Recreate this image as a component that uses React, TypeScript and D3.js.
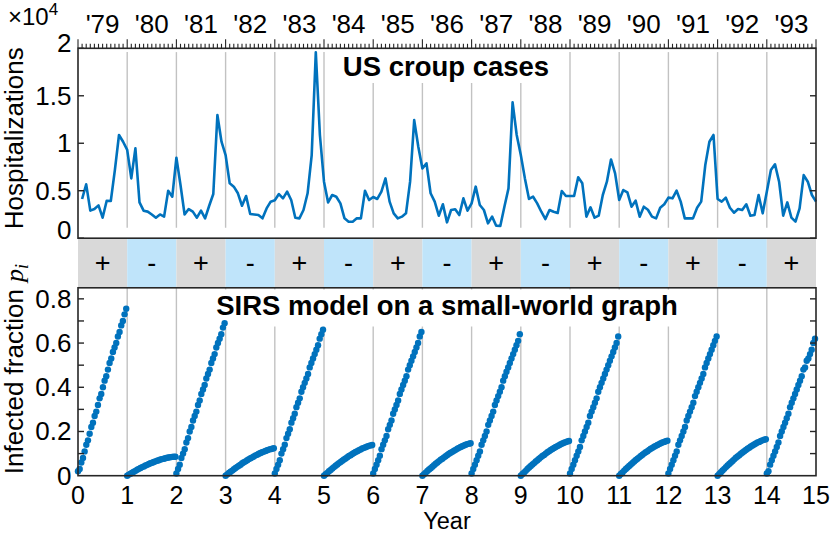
import React from 'react';
import * as d3 from 'd3';

const W = 830;
const H = 534;

const YEAR_LABELS = ["'79", "'80", "'81", "'82", "'83", "'84", "'85", "'86", "'87", "'88", "'89", "'90", "'91", "'92", "'93"];
const BAND_SIGNS = ['+', '-', '+', '-', '+', '-', '+', '-', '+', '-', '+', '-', '+', '-', '+'];
const TOP_TICKS = [0, 5000, 10000, 15000, 20000];
const TOP_TICK_LABELS = ['0', '0.5', '1', '1.5', '2'];
const BOT_TICKS = [0, 0.2, 0.4, 0.6, 0.8];
const BOT_TICK_LABELS = ['0', '0.2', '0.4', '0.6', '0.8'];
const BOT_MINOR = [0.1, 0.2, 0.3, 0.4, 0.5, 0.6, 0.7, 0.8];
const YEARS = [0, 1, 2, 3, 4, 5, 6, 7, 8, 9, 10, 11, 12, 13, 14, 15];

// monthly US croup hospitalizations, Jan 1979 .. Dec 1993
const CROUP = [
  4130, 5670, 2900, 3070, 3460, 2160, 3950, 3920, 7200, 10870, 10160, 9300,
  6300, 9460, 3770, 2900, 2800, 2500, 2160, 2500, 2270, 5000, 4370, 8480,
  5600, 2500, 3070, 2800, 2160, 2900, 2090, 3420, 4650, 12970, 10160, 8760,
  5780, 5430, 4730, 3420, 4440, 2550, 2500, 2440, 2090, 3140, 3850, 3990,
  4650, 4200, 4900, 4020, 2160, 2090, 2970, 4730, 8760, 19570, 10870, 5950,
  3770, 4550, 4370, 3670, 2090, 1740, 1740, 2090, 2090, 5000, 4020, 4340,
  4130, 4900, 6300, 3850, 2620, 2090, 2270, 2620, 5950, 12440, 9630, 7350,
  7880, 4730, 3850, 2370, 3570, 1670, 2970, 3040, 2440, 4200, 2900, 3670,
  5430, 3500, 2970, 1570, 2270, 1320, 1280, 3320, 5250, 14300, 10870, 8760,
  6300, 4130, 4370, 3670, 2790, 2020, 2970, 2790, 2650, 4970, 4440, 4440,
  4440, 6410, 5780, 2270, 3250, 2160, 2370, 4550, 5950, 8290, 6830, 4020,
  5070, 4830, 3320, 3950, 2270, 3320, 3000, 2270, 2090, 3210, 3570, 4270,
  4200, 5000, 3850, 2090, 2090, 2090, 3210, 3850, 7710, 10160, 10870, 4130,
  3850, 4270, 3210, 2690, 3070, 2970, 3570, 2370, 2440, 4550, 2620, 4900,
  7180, 7780, 5950, 2370, 3770, 2160, 1740, 3140, 6650, 5950, 4550, 3850,
];

// SIRS infected fraction, one array per year (30 samples each)
const SIRS_Y0 = [.02, .03, .06, .08, .11, .14, .16, .19, .22, .24, .27, .29, .32, .35, .37, .40, .43, .45, .48, .51, .53, .56, .58, .60, .63, .65, .68, .70, .73, .755];
const SIRS_Y1 = [0, .005, .009, .014, .018, .022, .027, .031, .035, .039, .042, .046, .049, .053, .056, .059, .062, .065, .068, .070, .073, .075, .077, .079, .081, .082, .084, .085, .086, .086];
const SIRS_Y2 = [.01, .03, .05, .08, .10, .12, .15, .17, .20, .22, .25, .27, .29, .32, .34, .37, .39, .41, .44, .46, .48, .51, .53, .55, .58, .60, .62, .64, .67, .69];
const SIRS_Y3 = [0, .006, .012, .018, .023, .029, .035, .040, .045, .050, .056, .061, .065, .070, .075, .079, .083, .087, .092, .095, .099, .103, .106, .109, .112, .115, .118, .120, .122, .124];
const SIRS_Y4 = [.01, .03, .05, .07, .10, .12, .14, .17, .19, .21, .24, .26, .28, .31, .33, .35, .38, .40, .42, .44, .46, .49, .51, .53, .55, .57, .59, .62, .64, .66];
const SIRS_Y5 = [0, .007, .013, .020, .026, .033, .039, .045, .051, .057, .062, .068, .073, .078, .084, .089, .093, .098, .103, .107, .111, .115, .119, .123, .126, .129, .132, .135, .137, .139];
const SIRS_Y6 = [.01, .03, .05, .07, .09, .12, .14, .16, .18, .21, .23, .25, .28, .30, .32, .34, .37, .39, .41, .43, .45, .48, .50, .52, .54, .56, .58, .60, .63, .65];
const SIRS_Y7 = [0, .007, .014, .021, .028, .034, .041, .047, .054, .060, .066, .072, .077, .083, .088, .094, .099, .104, .108, .113, .117, .122, .126, .130, .133, .137, .140, .143, .145, .147];
const SIRS_Y8 = [.01, .03, .05, .07, .09, .11, .14, .16, .18, .20, .23, .25, .27, .29, .32, .34, .36, .38, .40, .43, .45, .47, .49, .51, .53, .55, .57, .59, .61, .64];
const SIRS_Y9 = [0, .008, .015, .022, .030, .037, .044, .051, .057, .064, .070, .077, .083, .089, .094, .100, .106, .111, .116, .121, .125, .130, .134, .138, .142, .146, .149, .152, .155, .157];
const SIRS_Y10 = [.01, .03, .05, .07, .09, .11, .13, .16, .18, .20, .22, .24, .27, .29, .31, .33, .35, .38, .40, .42, .44, .46, .48, .50, .52, .54, .56, .58, .60, .63];
const SIRS_Y11 = [0, .008, .015, .023, .030, .037, .044, .051, .058, .064, .071, .077, .083, .089, .095, .101, .106, .111, .117, .122, .126, .131, .135, .139, .143, .147, .150, .153, .156, .158];
const SIRS_Y12 = [.01, .03, .05, .07, .09, .11, .14, .16, .18, .20, .22, .25, .27, .29, .31, .33, .36, .38, .40, .42, .44, .46, .49, .51, .53, .55, .57, .59, .61, .63];
const SIRS_Y13 = [0, .008, .016, .024, .031, .039, .046, .053, .060, .067, .074, .081, .087, .093, .099, .105, .111, .116, .122, .127, .132, .137, .141, .146, .150, .153, .157, .160, .163, .165];
const SIRS_Y14 = [.01, .02, .05, .07, .09, .11, .13, .15, .18, .20, .22, .24, .26, .28, .31, .33, .35, .37, .39, .41, .43, .45, .48, .49, .52, .53, .55, .57, .60, .62];

const SIRS_SEGMENTS = [SIRS_Y0, SIRS_Y1, SIRS_Y2, SIRS_Y3, SIRS_Y4, SIRS_Y5, SIRS_Y6, SIRS_Y7,
  SIRS_Y8, SIRS_Y9, SIRS_Y10, SIRS_Y11, SIRS_Y12, SIRS_Y13, SIRS_Y14];

const FONT = '"Liberation Sans", Arial, Helvetica, sans-serif';
const SERIF = '"Liberation Serif", "Times New Roman", serif';
const BLUE = '#0072BD';
const AXIS = '#262626';
const GRID = '#c2c2c2';
const BAND_GRAY = '#d9d9d9';
const BAND_BLUE = '#bfe4fa';

const x = d3.scaleLinear().domain([0, 15]).range([78, 816]);
const yTop = d3.scaleLinear().domain([0, 20000]).range([238.2, 48.3]);
const yBot = d3.scaleLinear().domain([0, 0.85]).range([475.7, 287.8]);

const croupPts: [number, number][] = CROUP.map((v, k) => [(k + 1) / 12, v]);
const croupLine = d3.line<[number, number]>().x(d => x(d[0])).y(d => yTop(d[1]));

const sirsPts = SIRS_SEGMENTS.flatMap((seg, yr) =>
  seg.map((v, k) => ({ t: yr + (k / (seg.length - 1)) * 0.98, v })));

const months = d3.range(0, 181);

export default function App() {
  const topY0 = yTop(0);
  const topY1 = yTop(20000);
  const botY0 = yBot(0);
  const botY1 = yBot(0.85);
  return (
    <svg width={W} height={H} style={{ position: 'absolute', left: 0, top: 0, background: '#fff' }}
      fontFamily={FONT}>
      {/* sign band */}
      {BAND_SIGNS.map((s, i) => (
        <g key={'b' + i}>
          <rect x={x(i)} y={topY0} width={x(i + 1) - x(i)} height={botY1 - topY0}
            fill={s === '+' ? BAND_GRAY : BAND_BLUE} />
          <text x={(x(i) + x(i + 1)) / 2} y={(topY0 + botY1) / 2} textAnchor="middle"
            dominantBaseline="central" fontSize={27} fill="#000">{s}</text>
        </g>
      ))}

      {/* grid lines */}
      {YEARS.slice(1, 15).map(t => (
        <line key={'gt' + t} x1={x(t)} x2={x(t)} y1={yTop(19600)} y2={yTop(1100)}
          stroke={GRID} strokeWidth={1.4} />
      ))}
      {YEARS.slice(1, 15).map(t => (
        <line key={'gb' + t} x1={x(t)} x2={x(t)} y1={botY1} y2={botY0}
          stroke={GRID} strokeWidth={1.4} />
      ))}

      {/* title backgrounds */}
      <rect x={335} y={50} width={222} height={33} fill="#fff" />
      <rect x={212} y={289.5} width={470} height={37} fill="#fff" />
      <text x={446} y={76} textAnchor="middle" fontSize={27.5} fontWeight="bold" fill="#000">US croup cases</text>
      <text x={447} y={315} textAnchor="middle" fontSize={27.5} fontWeight="bold" fill="#000">SIRS model on a small-world graph</text>

      {/* data */}
      <path d={croupLine(croupPts) || ''} fill="none" stroke={BLUE} strokeWidth={2.6} strokeLinejoin="round" />
      {sirsPts.map((p, i) => (
        <circle key={'d' + i} cx={x(p.t)} cy={yBot(p.v)} r={3.2} fill={BLUE} />
      ))}

      {/* frames */}
      <rect x={x(0)} y={topY1} width={x(15) - x(0)} height={topY0 - topY1} fill="none" stroke={AXIS} strokeWidth={1.6} />
      <rect x={x(0)} y={botY1} width={x(15) - x(0)} height={botY0 - botY1} fill="none" stroke={AXIS} strokeWidth={1.6} />

      {/* top month ticks */}
      {months.map(m => (
        <line key={'m' + m} x1={x(m / 12)} x2={x(m / 12)} y1={topY1} y2={topY1 - (m % 12 === 0 ? 9 : 4.5)}
          stroke={AXIS} strokeWidth={1.1} />
      ))}
      {YEAR_LABELS.map((l, i) => (
        <text key={'yl' + i} x={x(i + 0.5)} y={33} textAnchor="middle" fontSize={26} fill="#000">{l}</text>
      ))}

      {/* top y ticks */}
      {TOP_TICKS.map((v, i) => (
        <g key={'tt' + i}>
          <line x1={x(0)} x2={x(0) + 6} y1={yTop(v)} y2={yTop(v)} stroke={AXIS} strokeWidth={1.4} />
          <line x1={x(15)} x2={x(15) - 6} y1={yTop(v)} y2={yTop(v)} stroke={AXIS} strokeWidth={1.4} />
          <text x={71.5} y={yTop(v) + (i === 0 ? -8 : i === TOP_TICKS.length - 1 ? -5.5 : 0)} textAnchor="end"
            dominantBaseline="central" fontSize={26} fill="#000">{TOP_TICK_LABELS[i]}</text>
        </g>
      ))}
      <text x={8} y={25} fontSize={24} fill="#000">×10<tspan fontSize={17} dy={-10}>4</tspan></text>
      <text transform={`translate(23,${(topY0 + topY1) / 2 - 5}) rotate(-90)`} textAnchor="middle" fontSize={26} fill="#000">Hospitalizations</text>

      {/* bottom y ticks */}
      {BOT_MINOR.map((v, i) => (
        <g key={'bm' + i}>
          <line x1={x(0)} x2={x(0) + 6} y1={yBot(v)} y2={yBot(v)} stroke={AXIS} strokeWidth={1.4} />
          <line x1={x(15)} x2={x(15) - 6} y1={yBot(v)} y2={yBot(v)} stroke={AXIS} strokeWidth={1.4} />
        </g>
      ))}
      {BOT_TICKS.map((v, i) => (
        <text key={'bt' + i} x={71.5} y={yBot(v)} textAnchor="end" dominantBaseline="central"
          fontSize={26} fill="#000">{BOT_TICK_LABELS[i]}</text>
      ))}
      {YEARS.map(t => (
        <text key={'xt' + t} x={x(t)} y={503.5} textAnchor="middle" fontSize={25} fill="#000">{t}</text>
      ))}
      <text x={(x(0) + x(15)) / 2} y={528.5} textAnchor="middle" fontSize={23.5} fill="#000">Year</text>
      <text transform={`translate(23,369) rotate(-90)`} textAnchor="middle" fontSize={26} fill="#000">
        Infected fraction <tspan fontFamily={SERIF} fontStyle="italic">p</tspan>
        <tspan fontFamily={SERIF} fontStyle="italic" fontSize={18} dy={5}>i</tspan>
      </text>
    </svg>
  );
}
